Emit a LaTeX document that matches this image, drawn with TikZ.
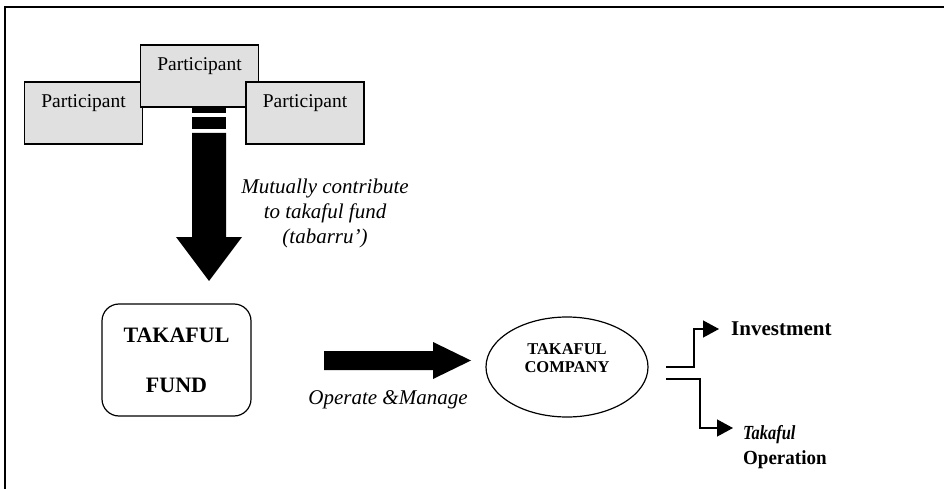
\documentclass[tikz,border=0pt]{standalone}
\usepackage{fontspec}
\setmainfont{Liberation Serif}
\usetikzlibrary{shapes.geometric,arrows.meta}
\begin{document}
\begin{tikzpicture}[x=1pt,y=-1pt,
  pbox/.style={draw, line width=1.2pt, fill=black!12, minimum width=118pt, minimum height=62pt, inner sep=0pt},
  ptext/.style={font=\fontsize{19.5}{23}\selectfont, inner sep=0pt},
  itext/.style={font=\fontsize{21}{25}\selectfont\itshape, inner sep=0pt, align=center},
  conn/.style={line width=1.3pt, -{Triangle[length=16pt,width=17pt]}},
  bigarrow/.style={fill=black, draw=none}]
\useasboundingbox (0,0) rectangle (944,489);
\draw[line width=2pt] (5,489) -- (5,7) -- (944,7);
% participants
\node[pbox] (pL) at (83.5,113) {};
\node[ptext] (tL) at (83.5,103) {Participant};
\node[pbox] (pM) at (199.5,76) {};
\node[ptext] (tM) at (199.5,66) {Participant};
\node[pbox] (pR) at (305,113) {};
\node[ptext] (tR) at (305,103) {Participant};
% striped down arrow
\fill (192,107.6) rectangle (226,113);
\fill (192,117) rectangle (226,129);
\fill[bigarrow] (192,133) -- (226,133) -- (226,237) -- (242,237) -- (209,281) -- (176,237) -- (192,237) -- cycle;
\node[itext] (mut) at (325,213) {Mutually contribute\\to takaful fund\\(tabarru')};
% fund
\node[draw, line width=1.2pt, rounded corners=17pt, minimum width=149pt, minimum height=112pt, align=center,
  font=\fontsize{22}{50}\selectfont\bfseries] (fund) at (176.5,360) {TAKAFUL\\FUND};
% right arrow
\fill[bigarrow] (324,351) -- (433,351) -- (433,342) -- (471,360.5) -- (433,379) -- (433,370) -- (324,370) -- cycle;
\node[itext] (op) at (388,400) {Operate \&Manage};
% company
\node[draw, ellipse, line width=1.2pt, minimum width=162pt, minimum height=100pt, inner sep=0pt] (comp) at (567,367) {};
\node[font=\fontsize{16.5}{18.5}\selectfont\bfseries, align=center, inner sep=0pt] (compt) at (567,358) {TAKAFUL\\COMPANY};
% outputs
\node[anchor=west, inner sep=0pt, font=\fontsize{21}{25}\selectfont\bfseries] (inv) at (731,329) {Investment};
\node[anchor=north west, inner sep=0pt, align=left, font=\fontsize{20}{25}\selectfont\bfseries] (tak) at (743,425)
  {\scalebox{0.82}[1]{\itshape Takaful}\\\scalebox{0.95}[1]{Operation}};
\coordinate (c1) at (666,367);
\coordinate (c2) at (666,379);
\draw[conn] (c1) -- (694,367) -- (694,329) -- ([xshift=-12pt]inv.west);
\draw[conn] (c2) -- (700,379) -- (700,428) -- (733,428);
\end{tikzpicture}
\end{document}
